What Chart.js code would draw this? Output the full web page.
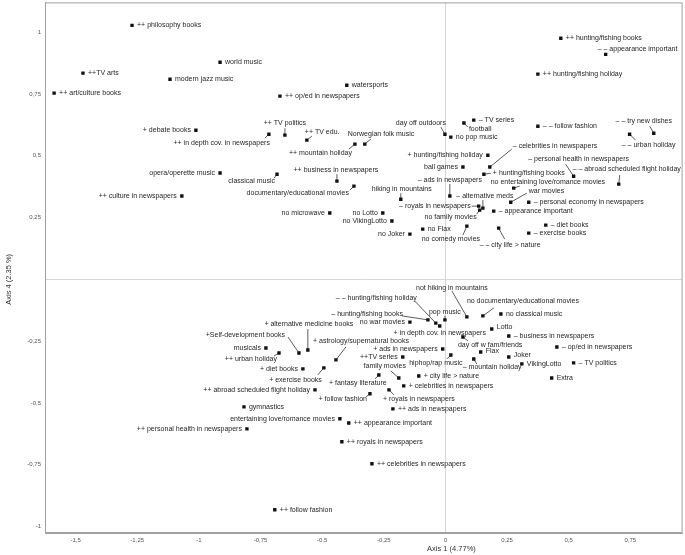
<!DOCTYPE html>
<html><head><meta charset="utf-8">
<script src="https://cdn.jsdelivr.net/npm/chart.js@4/dist/chart.umd.min.js"></script>
<style>html,body{margin:0;padding:0;background:#fff}#wrap{width:685px;height:555px}</style>
</head><body><div id="wrap"><canvas id="c" width="685" height="555"></canvas></div>
<script>
const D = '\u2013';
const categories = [
 '++ philosophy books','world music','++TV arts','modern jazz music','++ art/culture books',
 '+ debate books','++ in depth cov. in newspapers','opera/operette music','classical music','watersports',
 '++ op/ed in newspapers','++ TV politics','++ TV edu.','Norwegian folk music','++ mountain holiday',
 '++ business in newspapers','day off outdoors','no pop music','football',D+' TV series',
 '+ hunting/fishing holiday','ball games',D+' ads in newspapers',D+' alternative meds',D+' royals in newspapers',
 'no family movies','hiking in mountains','no Lotto','no VikingLotto','no Joker',
 'no Flax','no comedy movies','no microwave','documentary/educational movies','++ hunting/fishing books',
 D+' '+D+' appearance important','++ hunting/fishing holiday',D+' '+D+' follow fashion',D+' '+D+' try new dishes',D+' '+D+' urban holiday',
 D+' celebrities in newspapers','+ hunting/fishing books','no entertaining love/romance movies','war movies',D+' personal economy in newspapers',
 D+' appearance important',D+' diet books',D+' exercise books',D+' '+D+' city life > nature',D+' personal health in newspapers',
 D+' '+D+' abroad scheduled flight holiday','++ culture in newspapers','not hiking in mountains','no documentary/educational movies','no classical music',
 D+' '+D+' hunting/fishing holiday',D+' hunting/fishing books','pop music','no war movies','+ in depth cov. in newspapers',
 'Lotto',D+' business in newspapers',D+' op/ed in newspapers','day off w fam/friends','Flax',
 'Joker',D+' mountain holiday','VikingLotto',D+' TV politics','Extra',
 '+ ads in newspapers','++TV series','hiphop/rap music','family movies','+ city life > nature',
 '+ celebrities in newspapers','+ alternative medicine books','+Self-development books','musicals','++ urban holiday',
 '+ astrology/supernatural books','+ diet books','+ exercise books','++ abroad scheduled flight holiday','gymnastics',
 'entertaining love/romance movies','++ personal health in newspapers','+ fantasy literature','+ follow fashion','+ royals in newspapers',
 '++ ads in newspapers','++ appearance important','++ royals in newspapers','++ celebrities in newspapers','++ follow fashion'
];
const axis1 = [
 -1.271,-0.914,-1.470,-1.117,-1.587,
 -1.012,-0.716,-0.914,-0.683,-0.400,
 -0.671,-0.651,-0.562,-0.327,-0.367,
 -0.440,-0.002,0.022,0.075,0.115,
 0.172,0.071,0.018,0.152,0.135,
 0.139,-0.181,-0.254,-0.217,-0.144,
 -0.092,0.087,-0.469,-0.371,0.468,
 0.650,0.375,0.375,0.845,0.747,
 0.180,0.156,0.277,0.265,0.338,
 0.196,0.407,0.338,0.216,0.520,
 0.703,-1.069,0.087,0.152,0.225,
 -0.039,-0.071,-0.002,-0.144,-0.023,
 0.188,0.257,0.452,0.071,0.143,
 0.257,0.115,0.310,0.520,0.431,
 -0.011,-0.173,0.022,-0.189,-0.108,
 -0.169,-0.558,-0.594,-0.728,-0.675,
 -0.444,-0.578,-0.493,-0.529,-0.817,
 -0.428,-0.805,-0.270,-0.306,-0.229,
 -0.213,-0.392,-0.420,-0.298,-0.692
];
const axis4 = [
 1.027,0.878,0.834,0.809,0.753,
 0.603,0.587,0.430,0.425,0.785,
 0.741,0.583,0.563,0.547,0.547,
 0.397,0.587,0.575,0.632,0.644,
 0.502,0.454,0.337,0.288,0.296,
 0.280,0.324,0.268,0.236,0.183,
 0.203,0.215,0.268,0.377,0.975,
 0.910,0.830,0.619,0.591,0.587,
 0.454,0.425,0.369,0.312,0.312,
 0.276,0.219,0.187,0.207,0.417,
 0.385,0.337,-0.152,-0.148,-0.140,
 -0.177,-0.164,-0.164,-0.173,-0.189,
 -0.201,-0.229,-0.274,-0.233,-0.294,
 -0.314,-0.322,-0.342,-0.338,-0.399,
 -0.282,-0.314,-0.306,-0.399,-0.391,
 -0.431,-0.286,-0.298,-0.278,-0.298,
 -0.326,-0.362,-0.358,-0.447,-0.516,
 -0.564,-0.605,-0.387,-0.463,-0.447,
 -0.524,-0.581,-0.657,-0.746,-0.932
];
const xTickValues = [-1.5,-1.25,-1,-0.75,-0.5,-0.25,0,0.25,0.5,0.75];
const yTickValues = [-1,-0.75,-0.5,-0.25,0.25,0.5,0.75,1];
const xTitle = 'Axis 1 (4.77%)';
const yTitle = 'Axis 4 (2.35 %)';

// label placement relative to marker: [dx, dy, align, leaderDx, leaderDy]
const R = [5,0,'left'], L = [-5,0,'right'];
const labelLayout = [
 R,R,R,R,R,
 L,[1,9,'right',-4,4],L,[-2,7,'right',-3,4],R,
 R,[0,-12,'center',0,-7],[-2,-8,'left',5,-4],[-17,-10,'left',6,-5],[-3,9,'right',-6,5],
 [-1,-11,'center',0,-7],[1,-11,'right',-4,-7],R,[5,6,'left',4,4],R,
 L,L,[0,-16,'center',0,-12],[2,-12,'center',0,-8],[-8,0,'right',-7,0],
 [-3,7,'right',-3,4],[1,-10,'center',0,-6],L,L,L,
 R,[-16,13,'center',-4,9],L,[-5,7,'right',-4,4],R,
 [-8,-5,'left'],R,R,[-10,-12,'center',-4,-7],[19,11,'center',6,6],
 [23,-21,'left',22,-18],[9,-1,'left',7,-1],[-23,-6,'left',6,-2],[18,-11,'left',16,-9],R,
 R,R,R,[-19,17,'left',6,11],[5,-17,'center',-8,-12],
 [8,-15,'center',1,-9],L,[-15,-29,'center',-15,-26],[-16,-15,'left',11,-8],R,
 [-19,-25,'right',-21,-22],[-25,-6,'right',-26,-4],[0,-8,'center',0,-4],L,[0,7,'center'],
 [5,-2,'left'],R,R,[-5,8,'left',5,4],[5,-1,'left'],
 [5,-2,'left'],[-11,8,'left',3,5],R,R,R,
 L,L,[-15,8,'center',-4,4],[-14,-12,'center',-8,-7],R,
 R,[1,-26,'center',0,-21],[-14,-18,'right',-11,-16],L,[-2,6,'right',-5,3],
 [25,-19,'center',10,-13],L,[-2,12,'right',-6,7],L,R,
 L,L,[-21,8,'center',-4,4],[-3,5,'right',-4,3],[-6,9,'left',5,5],
 R,R,R,R,R
];

const FONT = '"Liberation Sans", Arial, sans-serif';
const fmt = v => String(v).replace('.', ',');

const labelPlugin = {
  id: 'pointLabels',
  beforeDatasetsDraw(chart) {
    const meta = chart.getDatasetMeta(0), ctx = chart.ctx;
    ctx.save(); ctx.strokeStyle = '#333'; ctx.lineWidth = 0.8;
    meta.data.forEach((pt, i) => {
      const l = labelLayout[i];
      if (l.length > 3) { ctx.beginPath(); ctx.moveTo(pt.x, pt.y); ctx.lineTo(pt.x + l[3], pt.y + l[4]); ctx.stroke(); }
    });
    ctx.restore();
  },
  afterDatasetsDraw(chart) {
    const meta = chart.getDatasetMeta(0), ctx = chart.ctx;
    ctx.save(); ctx.fillStyle = '#262626'; ctx.font = '7px ' + FONT; ctx.textBaseline = 'middle';
    meta.data.forEach((pt, i) => {
      const l = labelLayout[i];
      ctx.textAlign = l[2];
      ctx.fillText(categories[i], pt.x + l[0], pt.y + l[1]);
    });
    ctx.restore();
  },
  afterDraw(chart) {
    const ctx = chart.ctx, a = chart.chartArea, xs = chart.scales.x, ys = chart.scales.y;
    ctx.save();
    ctx.strokeStyle = '#a0a0a0'; ctx.lineWidth = 1;
    ctx.strokeRect(a.left + 0.5, a.top + 0.5, a.right - a.left - 1, a.bottom - a.top - 1);
    ctx.fillStyle = '#333'; ctx.font = '7.5px ' + FONT; ctx.textAlign = 'center'; ctx.textBaseline = 'middle';
    ctx.fillText(xTitle, xs.getPixelForValue(0) + 6, 549);
    ctx.translate(9, ys.getPixelForValue(0)); ctx.rotate(-Math.PI / 2);
    ctx.fillText(yTitle, 0, 0);
    ctx.restore();
  }
};

const zeroGrid = c => (c.tick && c.tick.value === 0) ? '#d6d6d6' : 'rgba(0,0,0,0)';

new Chart(document.getElementById('c'), {
  type: 'scatter',
  data: { datasets: [{
    data: axis1.map((x, i) => ({ x, y: axis4[i] })),
    pointStyle: 'rect', radius: 2.4, hoverRadius: 2.4,
    backgroundColor: '#111', borderColor: '#111', borderWidth: 0
  }]},
  options: {
    responsive: false, animation: false, devicePixelRatio: 1,
    layout: { padding: { top: 2, right: 2, left: 0, bottom: 0 } },
    plugins: { legend: { display: false }, tooltip: { enabled: false } },
    scales: {
      x: {
        type: 'linear', min: -1.624, max: 0.962,
        afterBuildTicks: s => { s.ticks = xTickValues.map(v => ({ value: v })); },
        afterFit: s => { s.height = 22; s.paddingLeft = 0; s.paddingRight = 0; },
        grid: { color: zeroGrid, drawTicks: false, lineWidth: 1 },
        border: { display: true, color: '#a0a0a0' },
        ticks: { padding: 4, color: '#555', font: { size: 6, family: FONT }, callback: v => fmt(v), maxRotation: 0, autoSkip: false }
      },
      y: {
        type: 'linear', min: -1.026, max: 1.120,
        afterBuildTicks: s => { s.ticks = yTickValues.concat([0]).map(v => ({ value: v })); },
        afterFit: s => { s.width = 45; s.paddingTop = 0; s.paddingBottom = 0; },
        grid: { color: zeroGrid, drawTicks: false, lineWidth: 1 },
        border: { display: true, color: '#a0a0a0' },
        ticks: { padding: 4, color: '#555', font: { size: 6, family: FONT }, callback: v => (v === 0 ? '' : fmt(v)), autoSkip: false }
      }
    }
  },
  plugins: [labelPlugin]
});
</script></body></html>
